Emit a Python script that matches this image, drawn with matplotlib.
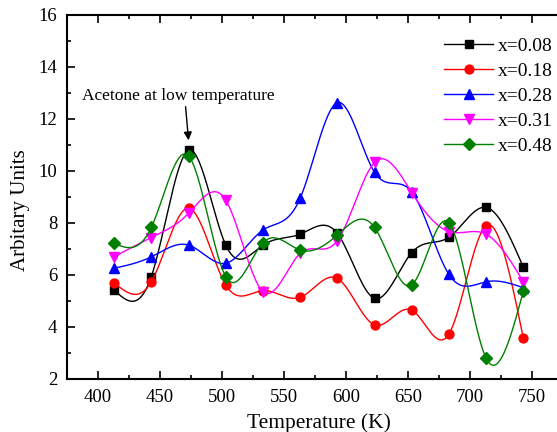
import numpy as np
import matplotlib
matplotlib.use("Agg")
import matplotlib.pyplot as plt
from matplotlib.ticker import MultipleLocator

plt.rcParams['font.family'] = ['Liberation Serif', 'DejaVu Serif']
plt.rcParams['mathtext.fontset'] = 'stix'

temperature = [413, 443, 473, 503, 533, 563, 593, 623, 653, 683, 713, 743]
x008 = [5.42, 5.94, 10.80, 7.15, 7.15, 7.57, 7.60, 5.10, 6.86, 7.45, 8.60, 6.30]
x018 = [5.70, 5.74, 8.57, 5.62, 5.40, 5.14, 5.87, 4.08, 4.65, 3.73, 7.90, 3.57]
x028 = [6.26, 6.70, 7.15, 6.45, 7.73, 8.95, 12.63, 9.95, 9.20, 6.02, 5.74, 5.51]
x031 = [6.70, 7.44, 8.37, 8.88, 5.36, 6.83, 7.32, 10.33, 9.17, 7.67, 7.57, 5.74]
x048 = [7.22, 7.83, 10.58, 5.94, 7.24, 6.96, 7.54, 7.83, 5.62, 8.01, 2.80, 5.38]

labels = ['x=0.08', 'x=0.18', 'x=0.28', 'x=0.31', 'x=0.48']
colors = ['black', 'red', 'blue', 'magenta', 'green']
markers = ['s', 'o', '^', 'v', 'D']
sizes = [5.4, 6.4, 7.2, 7.2, 6.0]


def natural_spline(x, y, n=400):
    """Natural cubic spline through (x, y), evaluated on a fine grid."""
    x = np.asarray(x, float)
    y = np.asarray(y, float)
    m = len(x)
    h = np.diff(x)
    A = np.zeros((m, m))
    b = np.zeros(m)
    A[0, 0] = A[-1, -1] = 1.0
    for i in range(1, m - 1):
        A[i, i - 1] = h[i - 1]
        A[i, i] = 2 * (h[i - 1] + h[i])
        A[i, i + 1] = h[i]
        b[i] = 6 * ((y[i + 1] - y[i]) / h[i] - (y[i] - y[i - 1]) / h[i - 1])
    M = np.linalg.solve(A, b)
    xs = np.linspace(x[0], x[-1], n)
    idx = np.clip(np.searchsorted(x, xs) - 1, 0, m - 2)
    x0, x1 = x[idx], x[idx + 1]
    hh = x1 - x0
    t0, t1 = x1 - xs, xs - x0
    ys = (M[idx] * t0 ** 3 + M[idx + 1] * t1 ** 3) / (6 * hh) \
        + (y[idx] / hh - M[idx] * hh / 6) * t0 \
        + (y[idx + 1] / hh - M[idx + 1] * hh / 6) * t1
    return xs, ys


fig = plt.figure(figsize=(5.57, 4.32), dpi=100)
ax = fig.add_axes([0.1203, 0.1227, 0.8905, 0.8426])

for series, lab, c, mk, ms in zip([x008, x018, x028, x031, x048], labels, colors, markers, sizes):
    xs, ys = natural_spline(temperature, series)
    ax.plot(xs, ys, color=c, lw=1.0)
    ax.plot(temperature, series, linestyle='none', marker=mk, color=c, ms=ms)
    ax.plot([], [], color=c, lw=1.0, marker=mk, ms=ms, label=lab)

ax.set_xlim(375, 775)
ax.set_ylim(2, 16)
ax.xaxis.set_major_locator(MultipleLocator(50))
ax.xaxis.set_minor_locator(MultipleLocator(25))
ax.yaxis.set_major_locator(MultipleLocator(2))
ax.yaxis.set_minor_locator(MultipleLocator(1))
ax.tick_params(which='both', direction='in', top=True, right=False, width=1.2)
ax.tick_params(which='major', length=6, labelsize=13.5, pad=7)
ax.tick_params(which='minor', length=3)
for s in ax.spines.values():
    s.set_linewidth(1.5)

ax.set_xlabel('Temperature (K)', fontsize=15.5)
ax.xaxis.set_label_coords(0.508, -0.095, transform=ax.transAxes)
ax.xaxis.label.set_va('top')
ax.set_ylabel('Arbitary Units', fontsize=15)
ax.yaxis.set_label_coords(-0.074, 0.464, transform=ax.transAxes)

ax.annotate('Acetone at low temperature', xy=(473, 11.18), xytext=(465, 12.58),
            textcoords='data', fontsize=12.5, ha='center', va='bottom',
            arrowprops=dict(arrowstyle='-|>', color='black', lw=1.0,
                            mutation_scale=12, shrinkA=0, shrinkB=0,
                            relpos=(0.535, 0.0),
                            connectionstyle='arc3,rad=0'))

leg = ax.legend(loc='upper left', bbox_to_anchor=(0.761, 0.939), frameon=False,
                fontsize=14, handlelength=2.5, handletextpad=0.25,
                labelspacing=0.38, borderaxespad=0, borderpad=0)

fig.savefig('out.png', dpi=100)
